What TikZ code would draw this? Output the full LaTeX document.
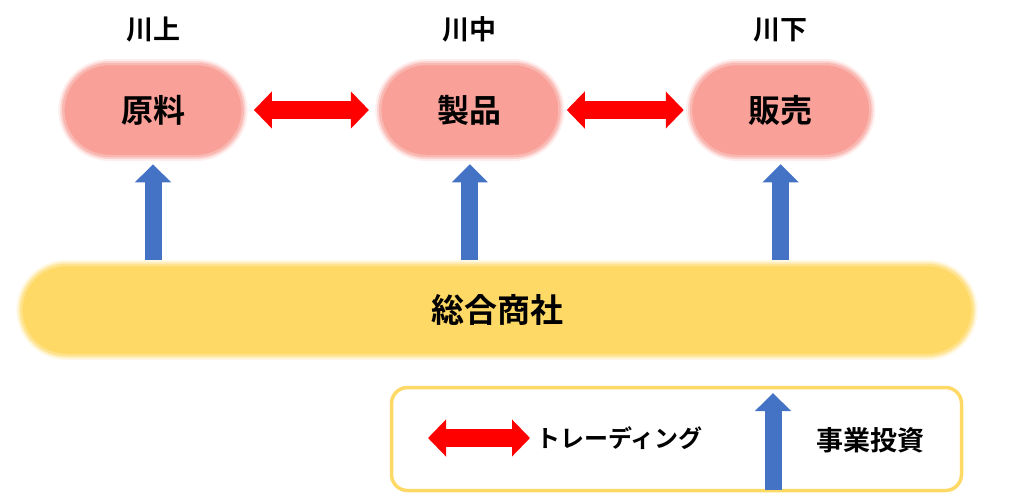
\documentclass[tikz,border=0pt]{standalone}
\usepackage{fontspec}
\setmainfont{Noto Sans CJK JP}[BoldFont={Noto Sans CJK JP Bold}]
\usepackage{xcolor}
\definecolor{pinkfill}{RGB}{249,160,153}
\definecolor{goldfill}{RGB}{255,217,102}
\definecolor{tradered}{RGB}{255,0,0}
\definecolor{investblue}{RGB}{68,114,196}
\usetikzlibrary{positioning, shapes.misc, arrows.meta}
\tikzstyle{Soft} = [
preaction={draw=#1!18!white, line width=10pt},
preaction={draw=#1!45!white, line width=6pt},
draw=#1!75!white, line width=2.5pt, fill=#1]
\tikzstyle{Pill} = [
rounded rectangle, Soft=pinkfill,
minimum width=186pt, minimum height=92pt,
font=\fontsize{32}{36}\selectfont\bfseries]
\tikzstyle{Band} = [
rounded rectangle, Soft=goldfill,
minimum width=958pt, minimum height=90pt,
font=\fontsize{33}{38}\selectfont\bfseries]
\tikzstyle{Head} = [font=\fontsize{27}{30}\selectfont\bfseries, inner sep=0pt]
\tikzstyle{Note} = [font=\fontsize{27}{30}\selectfont\bfseries, inner sep=0pt]
\tikzstyle{Trade} = [
tradered, line width=18pt,
{Triangle[width=36pt, length=18pt]}-{Triangle[width=36pt, length=18pt]}]
\tikzstyle{Invest} = [
investblue, line width=17pt,
-{Triangle[width=35pt, length=18pt]}]

\begin{document}
\begin{tikzpicture}[x=1pt, y=-1pt]
    \useasboundingbox (0,0) rectangle (1024,496);
    \node [Pill] (1) at (153,110) {原料};
    \node [Pill, right =135pt of 1] (2) {製品};
    \node [Pill, right =129pt of 2] (3) {販売};
    \node [Band] (4) at (497,310) {総合商社};
    \node [Head, above =20pt of 1] (5) {川上};
    \node [Head, above =20pt of 2] (6) {川中};
    \node [Head, above =20pt of 3] (7) {川下};

    \draw[Trade, shorten <=10pt, shorten >=10pt] (1.east)--(2.west);
    \draw[Trade, shorten <=6pt, shorten >=6pt] (2.east)--(3.west);
    \draw[Invest, shorten <=4pt, shorten >=7pt] (1.south |- 4.north)--(1.south);
    \draw[Invest, shorten <=4pt, shorten >=7pt] (2.south |- 4.north)--(2.south);
    \draw[Invest, shorten <=4pt, shorten >=7pt] (3.south |- 4.north)--(3.south);

    % legend
    \node [draw=goldfill, line width=3.5pt, rounded corners=16pt,
        minimum width=570pt, minimum height=103pt] (8) at (676.5,439) {};
    \coordinate (9) at (428,438);
    \coordinate (10) at (530,438);
    \draw[Trade] (9)--(10);
    \node [Note, font=\fontsize{24}{30}\selectfont\bfseries, anchor=west]
        (11) at (536,438) {トレーディング};
    \coordinate (12) at (773,490);
    \coordinate (13) at (773,393);
    \draw[Invest] (12)--(13);
    \node [Note] (14) at (870,440) {事業投資};
\end{tikzpicture}
\end{document}
